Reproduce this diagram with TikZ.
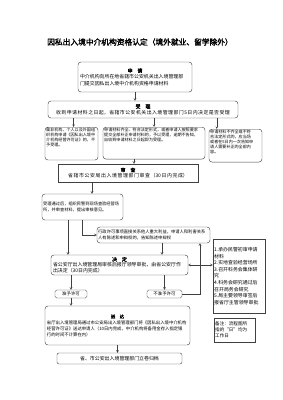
\documentclass[tikz,border=0pt]{standalone}
\usepackage{fontspec}
\setmainfont{Noto Sans CJK SC}[AutoFakeBold=2]
\XeTeXlinebreaklocale "zh"
\XeTeXlinebreakskip=0pt plus 1pt
\newcommand{\stagetitle}[1]{\makebox[\hsize]{\textbf{#1}}}
\begin{document}
\begin{tikzpicture}[x=0.5mm, y=-0.5mm]
    \tikzstyle{stage} = [draw=black!75, line width=0.6pt, rounded corners=1.5mm, inner xsep=1mm, inner ysep=0.6mm, font=\fontsize{7}{8.5}\selectfont]
    \tikzstyle{side} = [stage, anchor=north, inner xsep=0.6mm, align=left, font=\fontsize{5.8}{7}\selectfont]
    \tikzstyle{plain} = [stage, sharp corners]
    \tikzstyle{result} = [stage, rounded corners=0.8mm, inner sep=0pt, minimum height=4mm, font=\fontsize{6.3}{7}\selectfont]
    \tikzstyle{arrow} = [draw=black!75, line width=0.6pt, ->, >=stealth]

    \useasboundingbox (0,0) rectangle (282,400);

    % Title
    \node [font=\fontsize{11}{13}\selectfont\bfseries] (title) at (140,42) {因私出入境中介机构资格认定（境外就业、留学除外）};

    % Apply
    \node [stage, text width=55mm, minimum height=15mm, align=left, font=\fontsize{7}{9}\selectfont] (apply) at (135,77) {\stagetitle{申\hspace{1em}请}\\中介机构向所在地省辖市公安机关出入境管理部\\门提交因私出入境中介机构资格申请材料};

    % Accept
    \node [stage, text width=93mm, minimum height=8.5mm, align=center] (accept) at (143,109.5) {\textbf{受\hspace{1em}理}\\收到申请材料之日起，省辖市公安机关出入境管理部门5日内决定是否受理};

    % Three outcomes of acceptance
    \node [side, text width=25.3mm, text depth=38.4pt] (refuse) at (71.5,127) {属非机构、个人以及外国组\\织机构申请《因私出入境中\\介机构经营许可证》的，不\\予受理。};
    \node [side, text width=49.8mm, text depth=37pt] (admit) at (154,127) {申请材料齐全、符合法定形式，或者申请人按照要求\\提交全部补正申请材料的，予以受理，逾期不告知，\\自收到申请材料之日起即为受理。};
    \node [side, text width=25.3mm, text depth=38.4pt] (supplement) at (235.5,129) {申请材料不齐全或不符\\合法定形式的，应当场\\或者在5日内一次告知申\\请人需要补正的全部内\\容。};

    % Review
    \node [plain, text width=68mm, minimum height=9mm, align=center] (review) at (128,173) {\textbf{审\hspace{1em}查}\\省辖市公安局出入境管理部门审查（30日内完成）};

    % On-site check
    \node [stage, text width=39.3mm, inner xsep=0.6mm, minimum height=13mm, align=left, font=\fontsize{6}{9}\selectfont] (check) at (82.5,207) {受理通过后，组织民警到现场查验经营场\\所，并审查材料，提出审核意见。};

    % Hearing notice
    \node [stage, text width=55.3mm, inner xsep=0.6mm, minimum height=8mm, align=left, font=\fontsize{6.1}{7.5}\selectfont] (notify) at (153.5,235) {行政许可事项直接关系他人重大利益，申请人和利害关系\\人有陈述和申辩权的，告知陈述申辩权};

    % Decision
    \node [stage, text width=66.5mm, minimum height=10mm, align=left, font=\fontsize{7}{8}\selectfont] (decide) at (119.5,265) {\stagetitle{决\hspace{1em}定}\\省公安厅出入境管理局审核后报厅领导审批，由省公安厅作\\出决定（30日内完成）};

    % Internal steps
    \node [plain, text width=24.8mm, inner xsep=0.6mm, minimum height=37mm, align=left, font=\fontsize{7}{9.4}\selectfont] (steps) at (239,276) {1.承办民警初审申请\\材料\\2.实地查验经营场所\\3.召开科务会集体研\\究\\4.科务会研究通过后\\召开局务会研究\\5.局主要领导审签后\\报省厅主管领导审批};

    % Grant / deny
    \node [result, minimum width=16mm] (grant) at (71,294) {准予许可};
    \node [result, minimum width=17.5mm] (deny) at (164.5,294) {不准予许可};

    % Delivery
    \node [stage, text width=70.5mm, minimum height=19.5mm, align=left, font=\fontsize{6.2}{8.5}\selectfont] (deliver) at (117.5,325.5) {\stagetitle{送\hspace{1em}达}\\省厅出入境管理局通过市公安局出入境管理部门将《因私出入境中介机构\\经营许可证》送达申请人（10日内完成，中介机构将备用金存入指定银\\行的时间不计算在内）};

    % Archive
    \node [stage, rounded corners=1mm, minimum width=62.5mm, minimum height=5.5mm, inner sep=0pt, font=\fontsize{7}{8}\selectfont] (archive) at (119.5,358.5) {省、市公安出入境管理部门立卷归档};

    % Remark
    \node [plain, text width=19.3mm, inner xsep=0.6mm, minimum height=12mm, align=left, font=\fontsize{6.5}{8.5}\selectfont] (remark) at (234.5,330) {备注：流程图所\\指的“日”均为\\工作日};

    % Connectors
    \draw [arrow] (apply.south) -- (apply.south |- accept.north);
    \draw [arrow] ([xshift=1mm]refuse.north |- accept.south) -- ([xshift=1mm]refuse.north);
    \draw [arrow] (admit.north |- accept.south) -- (admit.north);
    \draw [arrow] ([xshift=4mm]supplement.north west |- accept.south) -- ([xshift=4mm]supplement.north west);
    \draw [arrow] ([xshift=3mm]review.north |- admit.south) -- ([xshift=3mm]review.north);
    \draw [arrow] ([xshift=4.75mm]check.north |- review.south) -- ([xshift=4.75mm]check.north);
    \draw [arrow] ([xshift=-7.25mm]check.south) -- ([xshift=-7.25mm]check.south |- decide.north);
    \draw [arrow] (check.south) |- (notify.west);
    \draw [arrow] ([xshift=4.25mm]notify.south) -- ([xshift=4.25mm]notify.south |- decide.north);
    \draw [arrow, <->] (decide.east) -- (decide.east -| steps.west);
    \draw [arrow] (grant.north |- decide.south) -- (grant.north);
    \draw [arrow] (deny.north |- decide.south) -- (deny.north);
    \draw [arrow] (deny.east) -| ([xshift=23.25mm]notify.south);
    \draw [arrow] (grant.south) -- (grant.south |- deliver.north);
    \draw [arrow] (deliver.south) -- (deliver.south |- archive.north);

\end{tikzpicture}
\end{document}
